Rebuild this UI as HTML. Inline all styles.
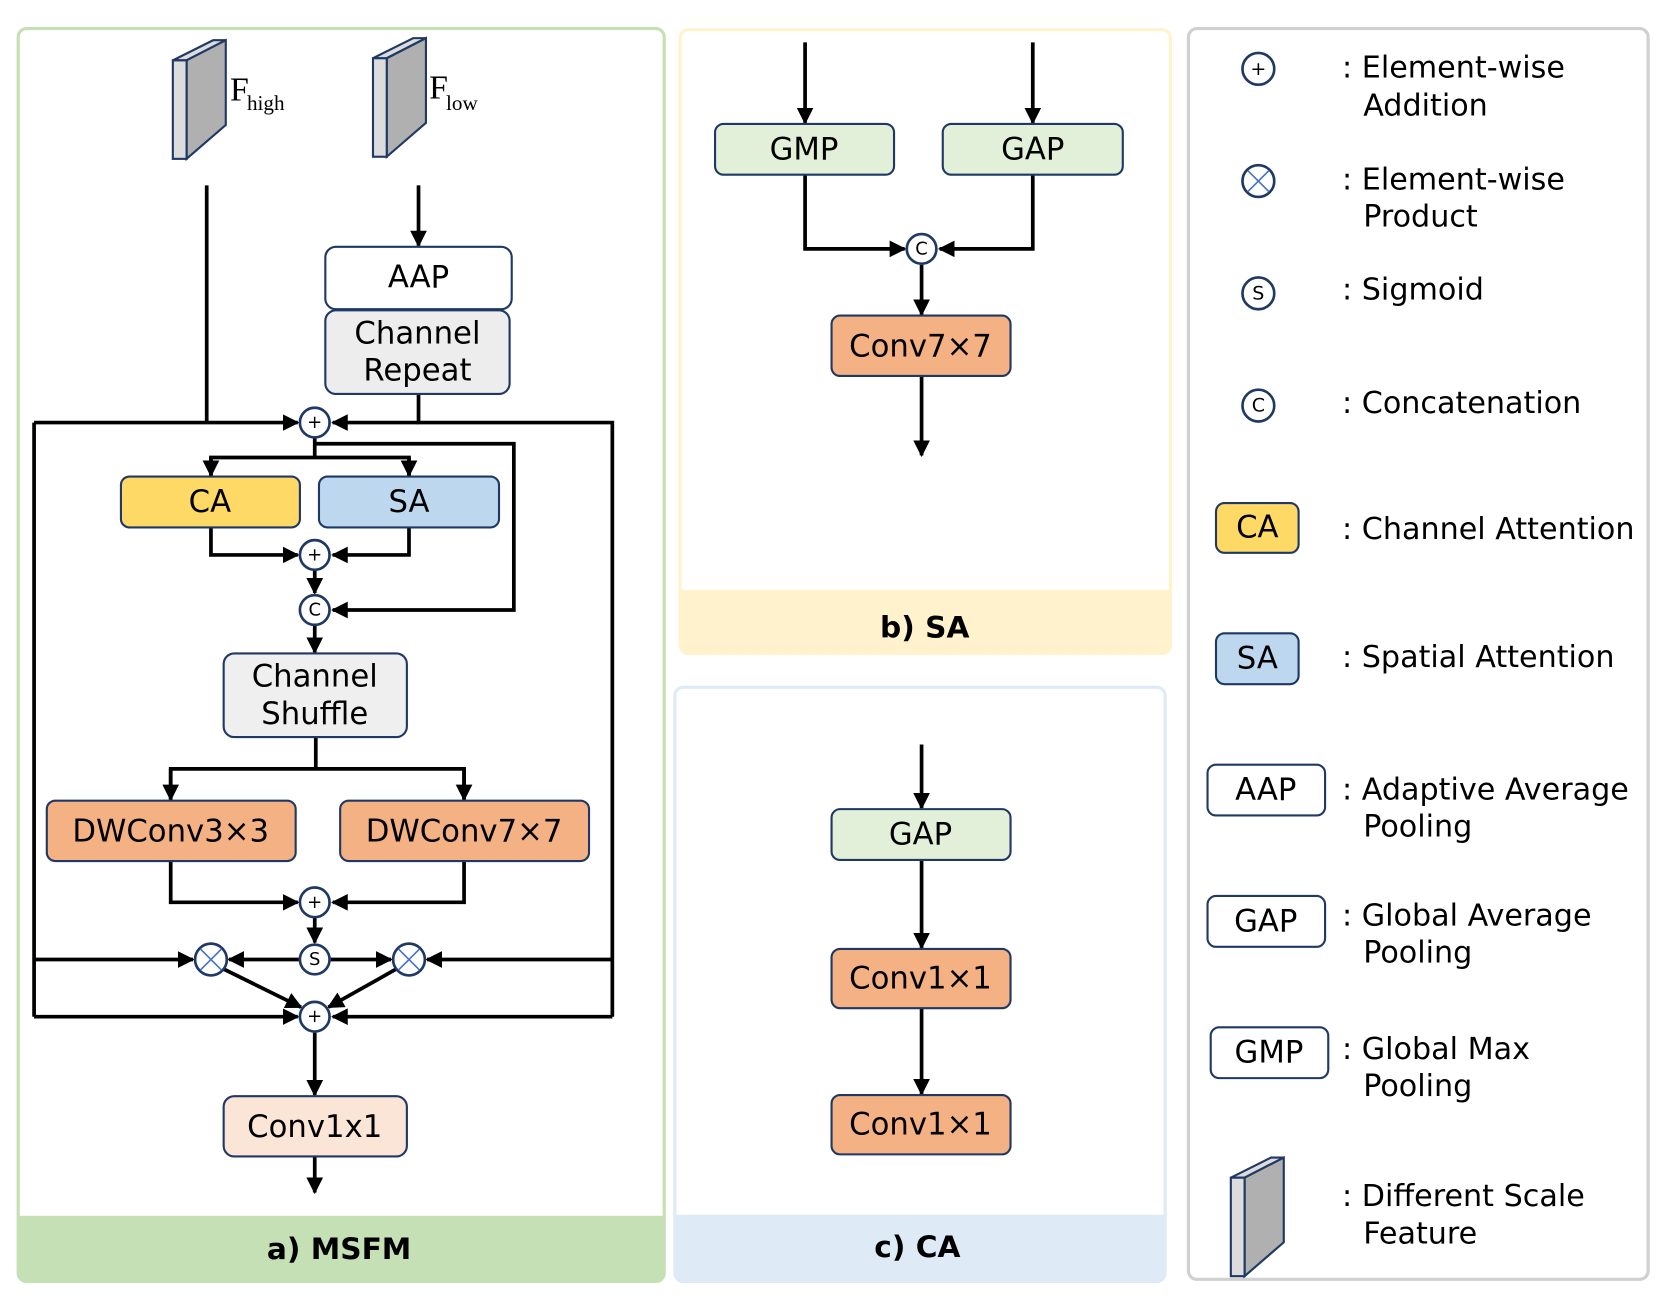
<!DOCTYPE html>
<html><head><meta charset="utf-8"><style>html,body{margin:0;padding:0;background:#fff}svg{display:block}
text{font-family:"DejaVu Sans","Liberation Sans",sans-serif;fill:#000}
text.serif{font-family:"Liberation Serif",serif}</style></head><body>
<svg width="1661" height="1309" viewBox="0 0 1568 1236" xmlns="http://www.w3.org/2000/svg">
<defs>
<marker id="ar" viewBox="0 0 10 10" refX="9" refY="5" markerWidth="4.5" markerHeight="4.5" orient="auto-start-reverse" markerUnits="strokeWidth"><path d="M0,0 L10,5 L0,10 z" fill="#000"/></marker>
<g id="cube"><polygon points="0,19 38,0 50,0 13,19" fill="#dcdcdc" stroke="#1f3864" stroke-width="2"/><polygon points="13,19 50,0 50,80 13,112" fill="#b0b0b0" stroke="#1f3864" stroke-width="2"/><rect x="0" y="19" width="13" height="93" fill="#dcdcdc" stroke="#1f3864" stroke-width="2"/></g>
</defs>
<!-- panels -->
<rect x="17" y="27" width="610" height="1183" rx="8" fill="#fff" stroke="#c5e0b4" stroke-width="3"/>
<rect x="18" y="1148" width="608" height="61" fill="#c5e0b4"/>
<text x="320" y="1189" font-size="28" font-weight="bold" text-anchor="middle">a) MSFM</text>
<rect x="642" y="28" width="463" height="589" rx="8" fill="#fff" stroke="#fff2cc" stroke-width="3"/>
<rect x="643" y="557" width="461" height="59" fill="#fff2cc"/>
<text x="873" y="602" font-size="28" font-weight="bold" text-anchor="middle">b) SA</text>
<rect x="637" y="649" width="463" height="561" rx="8" fill="#fff" stroke="#deebf7" stroke-width="3"/>
<rect x="638" y="1147" width="461" height="62" fill="#deebf7"/>
<text x="866" y="1187" font-size="28" font-weight="bold" text-anchor="middle">c) CA</text>
<rect x="1122" y="27" width="434" height="1181" rx="8" fill="#fff" stroke="#d0d0d0" stroke-width="3"/>

<!-- panel a -->
<use href="#cube" x="163" y="38"/>
<text class="serif" x="217" y="95" font-size="32">F</text><text class="serif" x="233" y="104" font-size="20">high</text>
<use href="#cube" x="352" y="36"/>
<text class="serif" x="405" y="93" font-size="32">F</text><text class="serif" x="421" y="104" font-size="20">low</text>

<g stroke="#000" stroke-width="3.5" fill="none">
<line x1="195" y1="175" x2="195" y2="399"/>
<line x1="32" y1="399" x2="281" y2="399" marker-end="url(#ar)"/>
<line x1="395" y1="175" x2="395" y2="232" marker-end="url(#ar)"/>
<polyline points="395,372 395,399 578,399 578,960"/>
<line x1="395" y1="399" x2="314" y2="399" marker-end="url(#ar)"/>
<line x1="32" y1="399" x2="32" y2="960"/>
<line x1="297" y1="413" x2="297" y2="432"/>
<polyline points="199,449 199,432 386,432 386,449"/>
<line x1="199" y1="432" x2="199" y2="449" marker-end="url(#ar)"/>
<line x1="386" y1="432" x2="386" y2="449" marker-end="url(#ar)"/>
<polyline points="297,419 485,419 485,576 314,576" marker-end="url(#ar)"/>
<polyline points="199,498 199,524 281,524" marker-end="url(#ar)"/>
<polyline points="386,498 386,524 314,524" marker-end="url(#ar)"/>
<line x1="297" y1="538" x2="297" y2="560" marker-end="url(#ar)"/>
<line x1="297" y1="590" x2="297" y2="616" marker-end="url(#ar)"/>
<line x1="298" y1="696" x2="298" y2="726"/>
<polyline points="161,755 161,726 438,726 438,755"/>
<line x1="161" y1="726" x2="161" y2="755" marker-end="url(#ar)"/>
<line x1="438" y1="726" x2="438" y2="755" marker-end="url(#ar)"/>
<polyline points="161,813 161,852 281,852" marker-end="url(#ar)"/>
<polyline points="438,813 438,852 314,852" marker-end="url(#ar)"/>
<line x1="297" y1="866" x2="297" y2="890" marker-end="url(#ar)"/>
<line x1="282" y1="906" x2="216" y2="906" marker-end="url(#ar)"/>
<line x1="312" y1="906" x2="369" y2="906" marker-end="url(#ar)"/>
<line x1="32" y1="906" x2="182" y2="906" marker-end="url(#ar)"/>
<line x1="578" y1="906" x2="403" y2="906" marker-end="url(#ar)"/>
<line x1="211" y1="915" x2="284" y2="951" marker-end="url(#ar)"/>
<line x1="374" y1="915" x2="310" y2="951" marker-end="url(#ar)"/>
<line x1="32" y1="960" x2="281" y2="960" marker-end="url(#ar)"/>
<line x1="578" y1="960" x2="314" y2="960" marker-end="url(#ar)"/>
<line x1="297" y1="975" x2="297" y2="1034" marker-end="url(#ar)"/>
<line x1="297" y1="1092" x2="297" y2="1126" marker-end="url(#ar)"/>
</g>
<g stroke="#1f3864" stroke-width="2">
<rect x="307" y="233" width="176" height="59" rx="10" fill="#fff"/>
<rect x="307" y="293" width="174" height="79" rx="10" fill="#ededed"/>
<rect x="114" y="450" width="169" height="48" rx="8" fill="#ffd966"/>
<rect x="301" y="450" width="170" height="48" rx="8" fill="#bdd7ee"/>
<rect x="211" y="617" width="173" height="79" rx="10" fill="#efefef"/>
<rect x="44" y="756" width="235" height="57" rx="8" fill="#f4b183"/>
<rect x="321" y="756" width="235" height="57" rx="8" fill="#f4b183"/>
<rect x="211" y="1035" width="173" height="57" rx="10" fill="#fbe5d6"/>
</g>
<g font-size="29" text-anchor="middle" dominant-baseline="central">
<text x="395" y="262">AAP</text>
<text x="394" y="315">Channel</text><text x="394" y="350">Repeat</text>
<text x="198" y="474">CA</text><text x="386" y="474">SA</text>
<text x="297" y="639">Channel</text><text x="297" y="674">Shuffle</text>
<text x="161" y="785">DWConv3×3</text><text x="438" y="785">DWConv7×7</text>
<text x="297" y="1064">Conv1x1</text>
</g>
<g stroke="#1f3864" stroke-width="2.5" fill="#fff">
<circle cx="297" cy="399" r="14"/><circle cx="297" cy="524" r="14"/><circle cx="297" cy="576" r="14"/>
<circle cx="297" cy="852" r="14"/><circle cx="297" cy="906" r="14"/><circle cx="297" cy="960" r="14"/>
<circle cx="199" cy="906" r="15"/><circle cx="386" cy="906" r="15"/>
</g>
<g stroke="#4472c4" stroke-width="1.5">
<path d="M189,896 L209,916 M209,896 L189,916"/><path d="M376,896 L396,916 M396,896 L376,916"/>
</g>
<g font-size="17" text-anchor="middle" dominant-baseline="central">
<text x="297" y="399">+</text><text x="297" y="524">+</text><text x="297" y="576">C</text>
<text x="297" y="852">+</text><text x="297" y="906">S</text><text x="297" y="960">+</text>
</g>

<!-- panel b -->
<g stroke="#000" stroke-width="3.5" fill="none">
<line x1="760" y1="40" x2="760" y2="116" marker-end="url(#ar)"/>
<line x1="975" y1="40" x2="975" y2="116" marker-end="url(#ar)"/>
<polyline points="760,165 760,235 854,235" marker-end="url(#ar)"/>
<polyline points="975,165 975,235 887,235" marker-end="url(#ar)"/>
<line x1="870" y1="250" x2="870" y2="297" marker-end="url(#ar)"/>
<line x1="870" y1="355" x2="870" y2="430" marker-end="url(#ar)"/>
<line x1="870" y1="703" x2="870" y2="763" marker-end="url(#ar)"/>
<line x1="870" y1="812" x2="870" y2="895" marker-end="url(#ar)"/>
<line x1="870" y1="952" x2="870" y2="1033" marker-end="url(#ar)"/>
</g>
<g stroke="#1f3864" stroke-width="2">
<rect x="675" y="117" width="169" height="48" rx="8" fill="#e2f0d9"/>
<rect x="890" y="117" width="170" height="48" rx="8" fill="#e2f0d9"/>
<rect x="785" y="298" width="169" height="57" rx="8" fill="#f4b183"/>
<rect x="785" y="764" width="169" height="48" rx="8" fill="#e2f0d9"/>
<rect x="785" y="896" width="169" height="56" rx="8" fill="#f4b183"/>
<rect x="785" y="1034" width="169" height="56" rx="8" fill="#f4b183"/>
<circle cx="870" cy="235" r="14" fill="#fff" stroke-width="2.5"/>
</g>
<text x="870" y="235" font-size="17" text-anchor="middle" dominant-baseline="central">C</text>
<g font-size="29" text-anchor="middle" dominant-baseline="central">
<text x="759" y="141">GMP</text><text x="975" y="141">GAP</text>
<text x="869" y="327">Conv7×7</text>
<text x="869" y="788">GAP</text>
<text x="869" y="924">Conv1×1</text><text x="869" y="1062">Conv1×1</text>
</g>

<!-- legend -->
<g stroke="#1f3864" stroke-width="2.5" fill="#fff">
<circle cx="1188" cy="65" r="15"/><circle cx="1188" cy="171" r="15"/><circle cx="1188" cy="277" r="15"/><circle cx="1188" cy="383" r="15"/>
</g>
<path d="M1178,161 L1198,181 M1198,161 L1178,181" stroke="#4472c4" stroke-width="1.5"/>
<g font-size="18" text-anchor="middle" dominant-baseline="central">
<text x="1188" y="65">+</text><text x="1188" y="277">S</text><text x="1188" y="383">C</text>
</g>
<g stroke="#1f3864" stroke-width="2">
<rect x="1148" y="475" width="78" height="47" rx="8" fill="#ffd966"/>
<rect x="1148" y="598" width="78" height="48" rx="8" fill="#bdd7ee"/>
<rect x="1140" y="722" width="111" height="48" rx="8" fill="#fff"/>
<rect x="1140" y="846" width="111" height="48" rx="8" fill="#fff"/>
<rect x="1143" y="970" width="111" height="48" rx="8" fill="#fff"/>
</g>
<use href="#cube" x="1162" y="1093"/>
<g font-size="29" text-anchor="middle" dominant-baseline="central">
<text x="1187" y="498">CA</text><text x="1187" y="622">SA</text>
<text x="1195" y="746">AAP</text><text x="1195" y="870">GAP</text><text x="1198" y="994">GMP</text>
</g>
<g font-size="28.5" dominant-baseline="central">
<text x="1267" y="64">: Element-wise</text><text x="1287" y="100">Addition</text>
<text x="1267" y="170">: Element-wise</text><text x="1287" y="205">Product</text>
<text x="1267" y="274">: Sigmoid</text>
<text x="1267" y="381">: Concatenation</text>
<text x="1267" y="500">: Channel Attention</text>
<text x="1267" y="621">: Spatial Attention</text>
<text x="1267" y="746">: Adaptive Average</text><text x="1287" y="781">Pooling</text>
<text x="1267" y="865">: Global Average</text><text x="1287" y="900">Pooling</text>
<text x="1267" y="991">: Global Max</text><text x="1287" y="1026">Pooling</text>
<text x="1267" y="1130">: Different Scale</text><text x="1287" y="1165">Feature</text>
</g>
</svg>
</body></html>
